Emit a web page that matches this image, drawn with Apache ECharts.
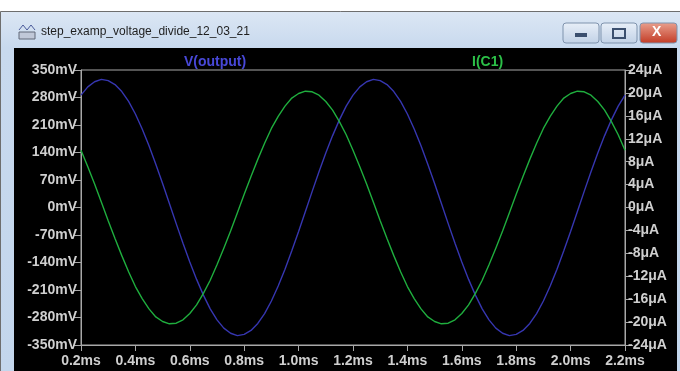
<!DOCTYPE html>
<html>
<head>
<meta charset="utf-8">
<script src="https://cdn.jsdelivr.net/npm/echarts@6/dist/echarts.min.js"></script>
<style>
  html, body { margin: 0; padding: 0; background: #ffffff; }
  #plotDiv { width: 680px; height: 371px; }
</style>
</head>
<body>
<div id="plotDiv"></div>
<script>
// sample times (ms)
const timeMs = [0.200, 0.225, 0.250, 0.275, 0.300, 0.325, 0.350, 0.375, 0.400, 0.425,
    0.450, 0.475, 0.500, 0.525, 0.550, 0.575, 0.600, 0.625, 0.650, 0.675,
    0.700, 0.725, 0.750, 0.775, 0.800, 0.825, 0.850, 0.875, 0.900, 0.925,
    0.950, 0.975, 1.000, 1.025, 1.050, 1.075, 1.100, 1.125, 1.150, 1.175,
    1.200, 1.225, 1.250, 1.275, 1.300, 1.325, 1.350, 1.375, 1.400, 1.425,
    1.450, 1.475, 1.500, 1.525, 1.550, 1.575, 1.600, 1.625, 1.650, 1.675,
    1.700, 1.725, 1.750, 1.775, 1.800, 1.825, 1.850, 1.875, 1.900, 1.925,
    1.950, 1.975, 2.000, 2.025, 2.050, 2.075, 2.100, 2.125, 2.150, 2.175, 2.200];

// V(output) in mV
const vOutput = [286, 307, 320, 326, 323, 313, 295, 270, 238, 200,
    157, 110, 61, 10, -41, -91, -139, -183, -223, -258,
    -286, -307, -320, -326, -323, -313, -295, -270, -238, -200,
    -157, -110, -61, -10, 41, 91, 139, 183, 223, 258,
    286, 307, 320, 326, 323, 313, 295, 270, 238, 200,
    157, 110, 61, 10, -41, -91, -139, -183, -223, -258,
    -286, -307, -320, -326, -323, -313, -295, -270, -238, -200,
    -157, -110, -61, -10, 41, 91, 139, 183, 223, 258, 286];

// I(C1) in uA
const iC1 = [10.0, 7.1, 4.1, 0.9, -2.3, -5.4, -8.4, -11.2, -13.8, -15.9,
    -17.7, -19.1, -19.9, -20.3, -20.2, -19.6, -18.5, -17.0, -15.0, -12.7,
    -10.0, -7.1, -4.1, -0.9, 2.3, 5.4, 8.4, 11.2, 13.8, 15.9,
    17.7, 19.1, 19.9, 20.3, 20.2, 19.6, 18.5, 17.0, 15.0, 12.7,
    10.0, 7.1, 4.1, 0.9, -2.3, -5.4, -8.4, -11.2, -13.8, -15.9,
    -17.7, -19.1, -19.9, -20.3, -20.2, -19.6, -18.5, -17.0, -15.0, -12.7,
    -10.0, -7.1, -4.1, -0.9, 2.3, 5.4, 8.4, 11.2, 13.8, 15.9,
    17.7, 19.1, 19.9, 20.3, 20.2, 19.6, 18.5, 17.0, 15.0, 12.7, 10.0];

const windowTitle = "step_examp_voltage_divide_12_03_21";

let plot = echarts.init(document.getElementById("plotDiv"));

const axisText = {
    color: "#cfcfcf",
    fontSize: 14,
    fontWeight: "bold",
    fontFamily: "Liberation Sans",
};

function btn(x, w, c1, c2, glyph) {
    return {
        type: "group",
        children: [
            {
                type: "rect",
                shape: { x: x, y: 23, width: w, height: 20, r: 3 },
                style: {
                    fill: new echarts.graphic.LinearGradient(0, 0, 0, 1, [
                        { offset: 0, color: c1 },
                        { offset: 1, color: c2 },
                    ]),
                    stroke: "#7f93ad",
                    lineWidth: 1,
                },
            },
            glyph,
        ],
    };
}

let options = {
    animation: false,
    backgroundColor: "#ffffff",
    graphic: [
        // window frame
        {
            type: "rect",
            z: -10,
            shape: { x: 0.5, y: 11.5, width: 682, height: 365 },
            style: {
                fill: new echarts.graphic.LinearGradient(0, 0, 0, 1, [
                    { offset: 0, color: "#dce7f4" },
                    { offset: 0.1, color: "#c8d9ee" },
                    { offset: 1, color: "#c3d6ec" },
                ]),
                stroke: "#6e6e6e",
                lineWidth: 1,
            },
        },
        {
            type: "rect",
            z: -9,
            shape: { x: 14, y: 48, width: 663, height: 330 },
            style: { fill: "#000000" },
        },
        {
            type: "text",
            left: 41,
            top: 26,
            style: {
                text: windowTitle,
                fill: "#1e1e1e",
                fontSize: 12,
                fontFamily: "Liberation Sans",
            },
        },
        // icon
        {
            type: "polyline",
            shape: { points: [[19, 30], [23, 25], [27, 30], [31, 25], [35, 30]] },
            style: { stroke: "#4a5a9a", lineWidth: 1, fill: null },
        },
        {
            type: "rect",
            shape: { x: 19, y: 32, width: 16, height: 7 },
            style: { fill: "#c0c8d8", stroke: "#606878", lineWidth: 1 },
        },
        btn(563, 36, "#e8eff8", "#c1d1e6", {
            type: "rect",
            shape: { x: 575, y: 33, width: 12, height: 4 },
            style: { fill: "#3b4f6e" },
        }),
        btn(601, 36, "#e8eff8", "#c1d1e6", {
            type: "rect",
            shape: { x: 613, y: 29, width: 12, height: 9 },
            style: { fill: "none", stroke: "#3b4f6e", lineWidth: 2 },
        }),
        btn(640, 37, "#e9a08e", "#c23a24", {
            type: "text",
            left: 652,
            top: 25,
            style: {
                text: "X",
                fill: "#ffffff",
                fontSize: 14,
                fontWeight: "bold",
                fontFamily: "Liberation Sans",
            },
        }),
    ],
    legend: [
        {
            left: 174,
            top: 50,
            icon: "none",
            itemWidth: 0,
            data: [{ name: "V(output)", textStyle: { color: "#4848d8" } }],
            textStyle: { fontSize: 14, fontWeight: "bold", fontFamily: "Liberation Sans" },
        },
        {
            left: 462,
            top: 50,
            icon: "none",
            itemWidth: 0,
            data: [{ name: "I(C1)", textStyle: { color: "#2cc048" } }],
            textStyle: { fontSize: 14, fontWeight: "bold", fontFamily: "Liberation Sans" },
        },
    ],
    grid: {
        left: 81,
        right: 55,
        top: 70,
        bottom: 26,
        show: true,
        borderColor: "#a8a8a8",
        borderWidth: 1,
        backgroundColor: "transparent",
    },
    xAxis: {
        type: "value",
        min: 0.2,
        max: 2.2,
        interval: 0.2,
        axisLine: { onZero: false, lineStyle: { color: "#a8a8a8" } },
        axisTick: { length: 6, lineStyle: { color: "#a8a8a8" } },
        splitLine: { show: false },
        axisLabel: {
            ...axisText,
            margin: 9,
            formatter: (v) => v.toFixed(1) + "ms",
        },
    },
    yAxis: [
        {
            type: "value",
            min: -350,
            max: 350,
            interval: 70,
            axisLine: { show: true, onZero: false, lineStyle: { color: "#a8a8a8" } },
            axisTick: { show: true, length: 8, lineStyle: { color: "#a8a8a8" } },
            splitLine: { show: false },
            axisLabel: { ...axisText, margin: 4, formatter: (v) => v + "mV" },
        },
        {
            type: "value",
            min: -24,
            max: 24,
            interval: 4,
            position: "right",
            axisLine: { show: true, onZero: false, lineStyle: { color: "#a8a8a8" } },
            axisTick: { show: true, length: 8, lineStyle: { color: "#a8a8a8" } },
            splitLine: { show: false },
            axisLabel: { ...axisText, margin: 3, formatter: (v) => v + "μA" },
        },
    ],
    series: [
        {
            name: "V(output)",
            type: "line",
            yAxisIndex: 0,
            showSymbol: false,
            lineStyle: { color: "#3636b0", width: 1.4 },
            itemStyle: { color: "#3636b0" },
            data: timeMs.map((t, i) => [t, vOutput[i]]),
        },
        {
            name: "I(C1)",
            type: "line",
            yAxisIndex: 1,
            showSymbol: false,
            lineStyle: { color: "#1fae3e", width: 1.4 },
            itemStyle: { color: "#1fae3e" },
            data: timeMs.map((t, i) => [t, iC1[i]]),
        },
    ],
};
plot.setOption(options);
</script>
</body>
</html>
